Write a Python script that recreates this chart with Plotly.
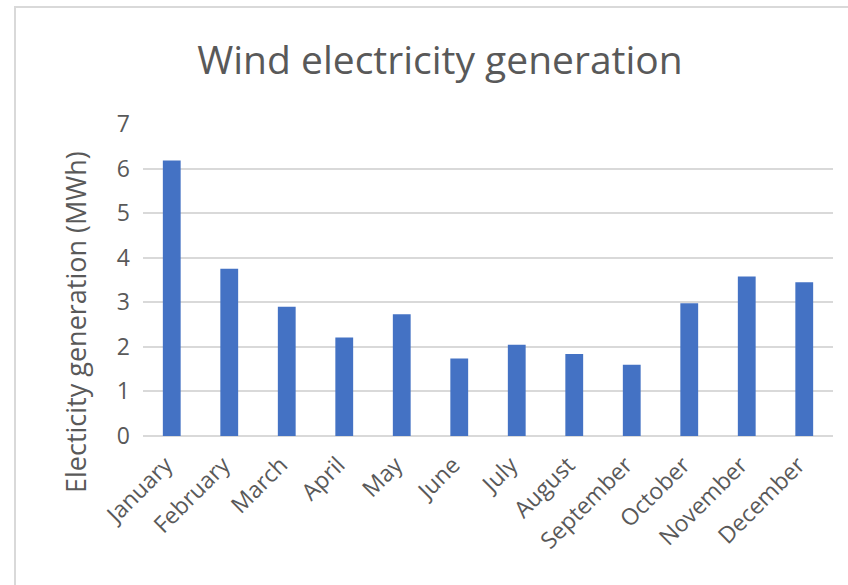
import plotly.graph_objects as go

months = ["January", "February", "March", "April", "May", "June", "July",
          "August", "September", "October", "November", "December"]
generation = [6.18, 3.75, 2.90, 2.21, 2.73, 1.74, 2.05, 1.84, 1.60, 2.98, 3.58, 3.45]
y_ticks = [0, 1, 2, 3, 4, 5, 6, 7]

TEXT = "#595959"
FONT = "Open Sans"

fig = go.Figure(go.Bar(x=months, y=generation, marker=dict(color="#4472C4", line=dict(width=0))))

L, R, T, B = 143, 15, 124, 149
W, H = 848, 585
pw, ph = W - L - R, H - T - B

fig.update_layout(
    width=W, height=H,
    margin=dict(l=L, r=R, t=T, b=B, autoexpand=False),
    paper_bgcolor="white", plot_bgcolor="white",
    bargap=0.69,
    showlegend=False,
    title=dict(text="Wind electricity generation", x=440 / W, xref="container", xanchor="center",
               y=1 - 60 / H, yref="container", yanchor="middle",
               font=dict(family=FONT, size=39, color=TEXT)),
    font=dict(family=FONT, color=TEXT),
    xaxis=dict(tickangle=-45, tickfont=dict(size=23, color=TEXT), showgrid=False,
               showline=False, ticks="", ticklabelstandoff=10, ticklabelshift=-6),
    yaxis=dict(range=[0, 7], tickvals=y_ticks, tickfont=dict(size=23, color=TEXT),
               gridcolor="#D9D9D9", gridwidth=1.5, zeroline=True, zerolinecolor="#D9D9D9",
               zerolinewidth=1.5, showline=False, ticks="", ticklabelstandoff=12),
    annotations=[dict(text="Electicity generation (MWh)", textangle=-90, showarrow=False,
                      xref="paper", yref="paper", x=(75 - L) / pw, y=(T + ph - 322) / ph,
                      xanchor="center", yanchor="middle",
                      font=dict(family=FONT, size=27, color=TEXT))],
    shapes=[dict(type="rect", xref="paper", yref="paper",
                 x0=(15 - L) / pw, x1=1.5, y0=-1, y1=1 + (T - 7) / ph,
                 line=dict(color="#D9D9D9", width=2), layer="below")],
)

fig.write_html("out.html")
